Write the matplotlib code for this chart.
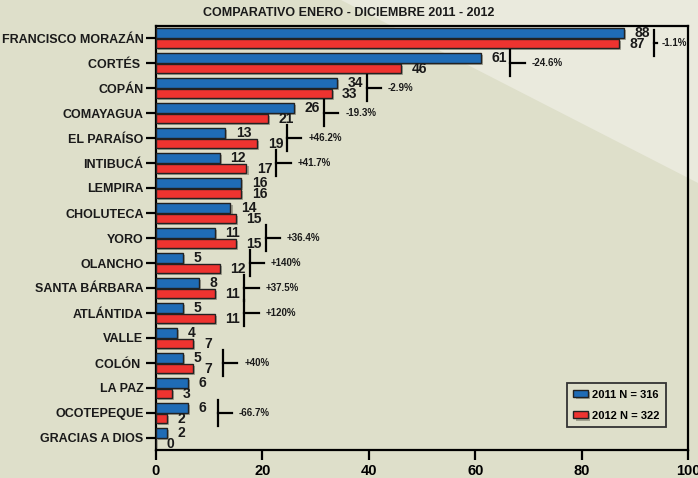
import matplotlib
matplotlib.use('Agg')
import matplotlib.pyplot as plt
import matplotlib.patheffects as pe
from matplotlib.patches import Polygon
import numpy as np

plt.rcParams['font.family'] = ['Liberation Sans', 'DejaVu Sans']
plt.rcParams['font.weight'] = 'bold'

# data
titulo = 'COMPARATIVO ENERO - DICIEMBRE 2011 - 2012'
departamentos = ['FRANCISCO MORAZÁN', 'CORTÉS ', 'COPÁN', 'COMAYAGUA', 'EL PARAÍSO',
                 'INTIBUCÁ', 'LEMPIRA', 'CHOLUTECA', 'YORO', 'OLANCHO', 'SANTA BÁRBARA',
                 'ATLÁNTIDA', 'VALLE', 'COLÓN ', 'LA PAZ', 'OCOTEPEQUE', 'GRACIAS A DIOS']
casos_2011 = [88, 61, 34, 26, 13, 12, 16, 14, 11, 5, 8, 5, 4, 5, 6, 6, 2]
casos_2012 = [87, 46, 33, 21, 19, 17, 16, 15, 15, 12, 11, 11, 7, 7, 3, 2, 0]
variacion = ['-1.1%', '-24.6%', '-2.9%', '-19.3%', '+46.2%', '+41.7%', None, None,
             '+36.4%', '+140%', '+37.5%', '+120%', None, '+40%', None, '-66.7%', None]
xticks = [0, 20, 40, 60, 80, 100]
leyenda = ['2011 N = 316', '2012 N = 322']

azul = '#1f6cb6'
rojo = '#ee3330'
fondo = '#dedfca'
claro = '#eaeadd'

fig = plt.figure(figsize=(6.98, 4.78), dpi=100, facecolor=fondo)

# background axes with the lighter diagonal area in the upper right corner
bg = fig.add_axes([0, 0, 1, 1], zorder=-1)
bg.set_xlim(0, 1)
bg.set_ylim(0, 1)
bg.axis('off')
bg.add_patch(Polygon([(341 / 698, 1), (1, 1), (1, 1 - 183 / 478)], closed=True,
                     facecolor=claro, edgecolor='none'))

ax = fig.add_axes([156 / 698, 28 / 478, 532 / 698, 424 / 478], zorder=1)
ax.set_facecolor('none')

y = np.arange(len(departamentos))
h = 0.38
off = 0.21
sombra = [pe.SimplePatchShadow(offset=(1.5, -1.5), shadow_rgbFace='#7a7a6a', alpha=0.6), pe.Normal()]
b1 = ax.barh(y - off, casos_2011, height=h, color=azul, edgecolor='#222222', linewidth=1.0,
             label=leyenda[0], zorder=3)
b2 = ax.barh(y + off, casos_2012, height=h, color=rojo, edgecolor='#222222', linewidth=1.0,
             label=leyenda[1], zorder=3)
for b in list(b1) + list(b2):
    b.set_path_effects(sombra)

for i in range(len(departamentos)):
    ax.text(casos_2011[i] + 2, y[i] - off, str(casos_2011[i]), ha='left', va='center',
            fontsize=10, fontweight='bold', color='#1a1a1a', zorder=4)
    ax.text(casos_2012[i] + 2, y[i] + off + 0.04, str(casos_2012[i]), ha='left', va='center',
            fontsize=10, fontweight='bold', color='#1a1a1a', zorder=4)
    if variacion[i]:
        # bracket with the percent change, squeezed when it runs into the frame
        bx = max(casos_2011[i], casos_2012[i]) + 5.6
        y0 = max(y[i] - 0.52, -0.34)
        yc = y0 + 0.52
        tx = min(bx + 4.0, 95.0)
        ax.plot([bx, bx], [y0, y0 + 1.04], color='black', lw=1.6, clip_on=False, zorder=4)
        ax.plot([bx, min(bx + 2.7, tx - 0.8)], [yc, yc], color='black', lw=1.6,
                clip_on=False, zorder=4)
        ax.text(tx, yc, variacion[i], ha='left', va='center', fontsize=7,
                fontweight='bold', color='#1a1a1a', clip_on=False, zorder=4)

ax.set_xlim(0, 100)
ax.set_ylim(len(departamentos) - 0.52, -0.48)
ax.set_xticks(xticks)
ax.set_xticklabels([str(t) for t in xticks], fontsize=10.5, fontweight='bold')
ax.set_yticks(y)
ax.set_yticklabels(departamentos, fontsize=9, fontweight='bold', color='#1a1a1a')
ax.tick_params(axis='both', direction='out', length=7, width=1.6, color='black')
ax.tick_params(axis='y', pad=2)
ax.tick_params(axis='x', pad=3)
for s in ax.spines.values():
    s.set_linewidth(1.6)
    s.set_color('black')

fig.text(349 / 698, 1 - 13 / 478, titulo, ha='center', va='center', fontsize=9,
         fontweight='bold', color='#1a1a1a')

leg = ax.legend(loc='lower right', bbox_to_anchor=(0.97, 0.04),
                prop={'weight': 'bold', 'size': 8}, fancybox=False, framealpha=1,
                facecolor=fondo, edgecolor='#333333', handlelength=1.3, handleheight=0.6,
                borderpad=0.6, labelspacing=1.0, handletextpad=0.4)
leg.get_frame().set_linewidth(1.3)

fig.savefig('out.png', dpi=100, facecolor=fondo)
